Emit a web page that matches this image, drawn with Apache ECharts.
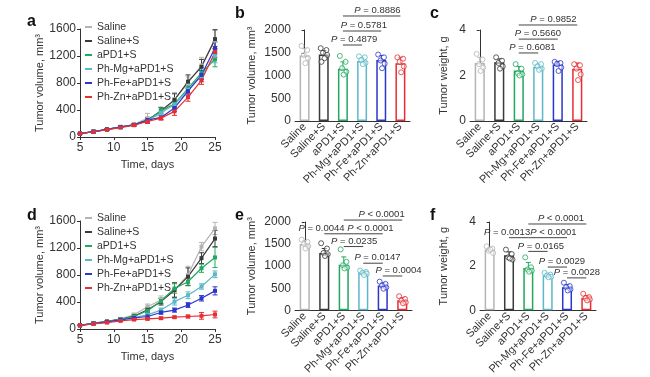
<!DOCTYPE html>
<html>
<head>
<meta charset="utf-8">
<script src="https://cdn.jsdelivr.net/npm/echarts@6/dist/echarts.min.js"></script>
<style>
  html, body { margin: 0; padding: 0; background: #fff; }
  #main { width: 650px; height: 377px; }
</style>
</head>
<body>
<div id="main"></div>
<script>
// groups + colours
const groups = ['Saline', 'Saline+S', 'aPD1+S', 'Ph-Mg+aPD1+S', 'Ph-Fe+aPD1+S', 'Ph-Zn+aPD1+S'];
const groupColors = ['#b4b4b4', '#3a3a3a', '#22a85f', '#5cb8c8', '#2b36cc', '#e62e33'];
const days = [5, 7, 9, 11, 13, 15, 17, 19, 21, 23, 25];
const volTicks = [0, 400, 800, 1200, 1600];
const barVolTicks = [0, 500, 1000, 1500, 2000];
const weightTicks = [0, 2, 4];

// a: growth curves (mean, sd) per group
const aMean = [
  [50, 80, 115, 150, 185, 280, 330, 560, 800, 1060, 1430],
  [50, 80, 115, 150, 180, 250, 390, 550, 820, 1040, 1450],
  [50, 80, 110, 145, 180, 240, 390, 490, 720, 950, 1150],
  [50, 78, 110, 145, 178, 240, 360, 480, 700, 900, 1200],
  [50, 80, 112, 148, 180, 250, 290, 430, 680, 920, 1320],
  [50, 78, 108, 140, 175, 230, 280, 380, 590, 840, 1260]
];
const aSd = [
  [5, 8, 10, 12, 15, 70, 40, 100, 90, 120, 150],
  [5, 8, 10, 12, 15, 40, 50, 90, 100, 110, 140],
  [5, 8, 10, 12, 15, 30, 40, 60, 70, 80, 110],
  [5, 8, 10, 12, 15, 30, 40, 60, 60, 80, 100],
  [5, 8, 10, 12, 15, 30, 30, 50, 60, 70, 90],
  [5, 8, 10, 12, 15, 30, 30, 60, 60, 60, 80]
];

// d: growth curves, second study
const dMean = [
  [55, 90, 115, 150, 210, 330, 430, 580, 800, 1220, 1490],
  [55, 85, 110, 145, 190, 285, 405, 575, 775, 1050, 1340],
  [55, 85, 110, 145, 185, 270, 415, 600, 700, 900, 1060],
  [55, 80, 105, 140, 170, 210, 280, 405, 500, 630, 810],
  [55, 80, 105, 135, 165, 185, 245, 280, 355, 455, 565],
  [55, 75, 95, 120, 140, 150, 160, 175, 185, 195, 215]
];
const dSd = [
  [5, 10, 10, 15, 25, 40, 60, 100, 130, 60, 90],
  [5, 10, 10, 15, 20, 35, 50, 110, 130, 80, 120],
  [5, 10, 10, 12, 20, 30, 40, 70, 60, 60, 150],
  [5, 8, 10, 10, 15, 25, 30, 50, 50, 40, 50],
  [5, 8, 10, 10, 15, 20, 25, 30, 35, 40, 60],
  [5, 8, 8, 10, 12, 15, 15, 15, 20, 50, 50]
];

// b: tumour volume, end point
const bMean = [1440, 1460, 1150, 1320, 1340, 1270];
const bSd = [150, 90, 150, 70, 100, 130];
const bDots = [
  [1650, 1560, 1450, 1380, 1270],
  [1600, 1560, 1500, 1450, 1380, 1300],
  [1430, 1300, 1160, 1080, 1020],
  [1420, 1400, 1340, 1280, 1250],
  [1460, 1400, 1330, 1260, 1160],
  [1400, 1370, 1300, 1200, 1070]
];
const bPairs = [[2, 5], [2, 4], [2, 3]];
const bPLevel = [2308, 1978, 1670];
const bPTextX = [3.8, 3.09, 2.59];
const bPText = ['P = 0.8886', 'P = 0.5781', 'P = 0.4879'];

// c: tumour weight
const cMean = [2.55, 2.58, 2.22, 2.38, 2.48, 2.3];
const cSd = [0.25, 0.15, 0.18, 0.12, 0.14, 0.25];
const cDots = [
  [2.95, 2.7, 2.5, 2.35, 2.2],
  [2.8, 2.65, 2.55, 2.4, 2.3],
  [2.5, 2.3, 2.1, 2.05, 2.0],
  [2.55, 2.5, 2.4, 2.3, 2.25],
  [2.6, 2.55, 2.5, 2.35, 2.2],
  [2.5, 2.45, 2.3, 2.05, 1.8]
];
const cPairs = [[2, 5], [2, 4], [2, 3]];
const cPLevel = [4.22, 3.6, 2.99];
const cPTextX = [3.78, 2.98, 2.7];
const cPText = ['P = 0.9852', 'P = 0.5660', 'P = 0.6081'];

// e: tumour volume, second study
const eMean = [1500, 1300, 1030, 850, 560, 230];
const eSd = [80, 100, 180, 40, 60, 60];
const eDots = [
  [1600, 1550, 1500, 1450, 1400],
  [1520, 1400, 1300, 1270, 1230],
  [1380, 1100, 1020, 970, 950],
  [900, 870, 850, 830, 800],
  [650, 600, 560, 520, 490],
  [320, 260, 220, 180, 160]
];
const ePairs = [[2, 5], [2, 4], [1, 2], [2, 3], [3, 4], [4, 5]];
const ePLevel = [2044, 1733, 1733, 1444, 1067, 778];
const ePTextX = [3.94, 3.37, 0.86, 2.53, 3.73, 4.81];
const ePText = ['P < 0.0001', 'P < 0.0001', 'P = 0.0044', 'P = 0.0235', 'P = 0.0147', 'P = 0.0004'];

// f: tumour weight, second study
const fMean = [2.75, 2.5, 1.92, 1.58, 1.05, 0.57];
const fSd = [0.1, 0.15, 0.25, 0.07, 0.12, 0.1];
const fDots = [
  [2.9, 2.8, 2.7, 2.6, 2.75],
  [2.75, 2.55, 2.4, 2.3, 2.35],
  [2.4, 1.95, 1.85, 1.8, 1.75],
  [1.7, 1.62, 1.58, 1.52, 1.5],
  [1.25, 1.1, 1.05, 0.95, 0.9],
  [0.75, 0.6, 0.55, 0.5, 0.45]
];
const fPairs = [[2, 5], [2, 4], [1, 2], [2, 3], [3, 4], [4, 5]];
const fPLevel = [3.91, 3.29, 3.29, 2.67, 1.96, 1.47];
const fPTextX = [3.69, 3.3, 0.9, 2.65, 3.74, 4.51];
const fPText = ['P < 0.0001', 'P < 0.0001', 'P = 0.0013', 'P = 0.0165', 'P = 0.0029', 'P = 0.0028'];

// dot spread inside a bar (category units)
const jitter = [-0.16, 0.14, -0.04, 0.18, 0.04, -0.12];

const font = 'Liberation Sans, Arial, sans-serif';
const txt = '#333';
const axisCol = '#333';

let chart = echarts.init(document.getElementById('main'));

function plain(v) { return String(v); }

function timeAxis(gi) {
  return {
    type: 'value', gridIndex: gi, min: 5, max: 25, interval: 5,
    name: 'Time, days', nameLocation: 'middle', nameGap: 22,
    nameTextStyle: { fontSize: 11, color: txt, fontFamily: font },
    axisLine: { lineStyle: { color: axisCol } },
    axisTick: { length: 3, lineStyle: { color: axisCol } },
    axisLabel: { fontSize: 12, color: txt, margin: 5, fontFamily: font, formatter: plain },
    splitLine: { show: false }
  };
}
function catAxis(gi) {
  return {
    type: 'category', gridIndex: gi, data: groups,
    axisTick: { show: false },
    axisLine: { lineStyle: { color: axisCol } },
    axisLabel: { rotate: 45, interval: 0, fontSize: 11, color: txt, margin: 4, fontFamily: font }
  };
}
function overlayAxis(gi) {
  return { type: 'value', gridIndex: gi, min: -0.5, max: 5.5, show: false };
}
function yAx(gi, ticks, name, gap) {
  return {
    type: 'value', gridIndex: gi, min: ticks[0], max: ticks[ticks.length - 1],
    interval: ticks[1] - ticks[0],
    name: name, nameLocation: 'middle', nameGap: gap, nameRotate: 90,
    nameTextStyle: { fontSize: 11, color: txt, fontFamily: font },
    axisLine: { show: true, lineStyle: { color: axisCol } },
    axisTick: { show: true, length: 3, lineStyle: { color: axisCol } },
    axisLabel: { fontSize: 12, color: txt, margin: 4, fontFamily: font, formatter: plain },
    splitLine: { show: false }
  };
}

function errRender(capUpOnly) {
  return function (params, api) {
    const x = api.value(0), m = api.value(1), s = api.value(2);
    const color = groupColors[api.value(3)];
    const top = api.coord([x, m + s]);
    const bot = capUpOnly ? api.coord([x, m]) : api.coord([x, m - s]);
    const st = { stroke: color, lineWidth: 1 };
    const kids = [
      { type: 'line', shape: { x1: top[0], y1: top[1], x2: bot[0], y2: bot[1] }, style: st },
      { type: 'line', shape: { x1: top[0] - 2.5, y1: top[1], x2: top[0] + 2.5, y2: top[1] }, style: st }
    ];
    if (!capUpOnly) {
      kids.push({ type: 'line', shape: { x1: bot[0] - 2.5, y1: bot[1], x2: bot[0] + 2.5, y2: bot[1] }, style: st });
    }
    return { type: 'group', children: kids };
  };
}

function bracketRender(labels) {
  return function (params, api) {
    const p1 = api.coord([api.value(0), api.value(2)]);
    const p2 = api.coord([api.value(1), api.value(2)]);
    const t = api.coord([api.value(3), api.value(2)]);
    const lab = labels[params.dataIndex];
    return {
      type: 'group',
      children: [
        { type: 'line', shape: { x1: p1[0], y1: p1[1], x2: p2[0], y2: p2[1] }, style: { stroke: '#444', lineWidth: 1 } },
        {
          type: 'text',
          style: {
            text: '{i|P}' + lab.slice(1),
            x: t[0], y: t[1] - 0.5, align: 'center', verticalAlign: 'bottom',
            fontSize: 9.5, fontFamily: font, fill: txt,
            rich: { i: { fontStyle: 'italic', fontSize: 9.5, fontFamily: font, fill: txt } }
          }
        }
      ]
    };
  };
}

let series = [];

function addLines(means, sds, xi, yi) {
  means.forEach(function (row, g) {
    series.push({
      type: 'line', name: groups[g], xAxisIndex: xi, yAxisIndex: yi,
      data: days.map(function (d, k) { return [d, row[k]]; }),
      color: groupColors[g], symbol: 'rect', symbolSize: 4,
      lineStyle: { width: 1.2 }, z: 3, silent: true, animation: false
    });
  });
  let err = [];
  means.forEach(function (row, g) {
    row.forEach(function (v, k) { err.push([days[k], v, sds[g][k], g]); });
  });
  series.push({
    type: 'custom', xAxisIndex: xi, yAxisIndex: yi, data: err,
    renderItem: errRender(false), encode: { x: 0, y: 1 }, z: 2, silent: true, animation: false
  });
}

function addBars(mean, sd, dots, pairs, levels, textX, labels, xCat, xOv, yi) {
  series.push({
    type: 'bar', xAxisIndex: xCat, yAxisIndex: yi, barWidth: '52%',
    data: mean.map(function (v, i) {
      return { value: v, itemStyle: { color: '#fff', borderColor: groupColors[i], borderWidth: 1.5 } };
    }),
    silent: true, animation: false
  });
  series.push({
    type: 'custom', xAxisIndex: xOv, yAxisIndex: yi,
    data: mean.map(function (v, i) { return [i, v, sd[i], i]; }),
    renderItem: errRender(true), encode: { x: 0, y: 1 }, z: 3, silent: true, animation: false
  });
  let pts = [];
  dots.forEach(function (arr, i) {
    arr.forEach(function (v, k) {
      pts.push({ value: [i + jitter[k], v], itemStyle: { borderColor: groupColors[i] } });
    });
  });
  series.push({
    type: 'scatter', xAxisIndex: xOv, yAxisIndex: yi, symbolSize: 5, data: pts,
    itemStyle: { color: 'rgba(255,255,255,0.6)', borderWidth: 1 }, z: 4, silent: true, animation: false
  });
  series.push({
    type: 'custom', xAxisIndex: xOv, yAxisIndex: yi, clip: false,
    data: pairs.map(function (p, i) { return [p[0], p[1], levels[i], textX[i]]; }),
    renderItem: bracketRender(labels), encode: { x: 0, y: 2 }, z: 5, silent: true, animation: false
  });
}

addLines(aMean, aSd, 0, 0);
addBars(bMean, bSd, bDots, bPairs, bPLevel, bPTextX, bPText, 1, 2, 1);
addBars(cMean, cSd, cDots, cPairs, cPLevel, cPTextX, cPText, 3, 4, 2);
addLines(dMean, dSd, 5, 3);
addBars(eMean, eSd, eDots, ePairs, ePLevel, ePTextX, ePText, 6, 7, 4);
addBars(fMean, fSd, fDots, fPairs, fPLevel, fPTextX, fPText, 8, 9, 5);

function legendAt(top) {
  return {
    data: groups, orient: 'vertical', left: 84, top: top,
    itemWidth: 7, itemHeight: 2, itemGap: 0, padding: 0, selectedMode: false,
    itemStyle: { opacity: 0 },
    textStyle: { fontSize: 10.5, color: txt, lineHeight: 14, fontFamily: font }
  };
}

function letter(ch, x, y) {
  return { type: 'text', left: x, top: y, style: { text: ch, font: 'bold 16px ' + font, fill: '#111' } };
}

let option = {
  backgroundColor: '#fff',
  animation: false,
  grid: [
    { left: 80, top: 29, width: 135, height: 108 },
    { left: 295, top: 30, width: 115, height: 91 },
    { left: 470, top: 30, width: 117, height: 91 },
    { left: 80, top: 221, width: 135, height: 108 },
    { left: 295, top: 222, width: 117, height: 90 },
    { left: 480, top: 222, width: 116, height: 90 }
  ],
  xAxis: [
    timeAxis(0),
    catAxis(1), overlayAxis(1),
    catAxis(2), overlayAxis(2),
    timeAxis(3),
    catAxis(4), overlayAxis(4),
    catAxis(5), overlayAxis(5)
  ],
  yAxis: [
    yAx(0, volTicks, 'Tumor volume, mm³', 34),
    yAx(1, barVolTicks, 'Tumor volume, mm³', 38),
    yAx(2, weightTicks, 'Tumor weight, g', 21),
    yAx(3, volTicks, 'Tumor volume, mm³', 34),
    yAx(4, barVolTicks, 'Tumor volume, mm³', 38),
    yAx(5, weightTicks, 'Tumor weight, g', 31)
  ],
  legend: [legendAt(20), legendAt(211)],
  graphic: [
    letter('a', 27, 14), letter('b', 235, 6), letter('c', 430, 6),
    letter('d', 27, 208), letter('e', 235, 208), letter('f', 430, 208)
  ],
  series: series
};

chart.setOption(option);
</script>
</body>
</html>
